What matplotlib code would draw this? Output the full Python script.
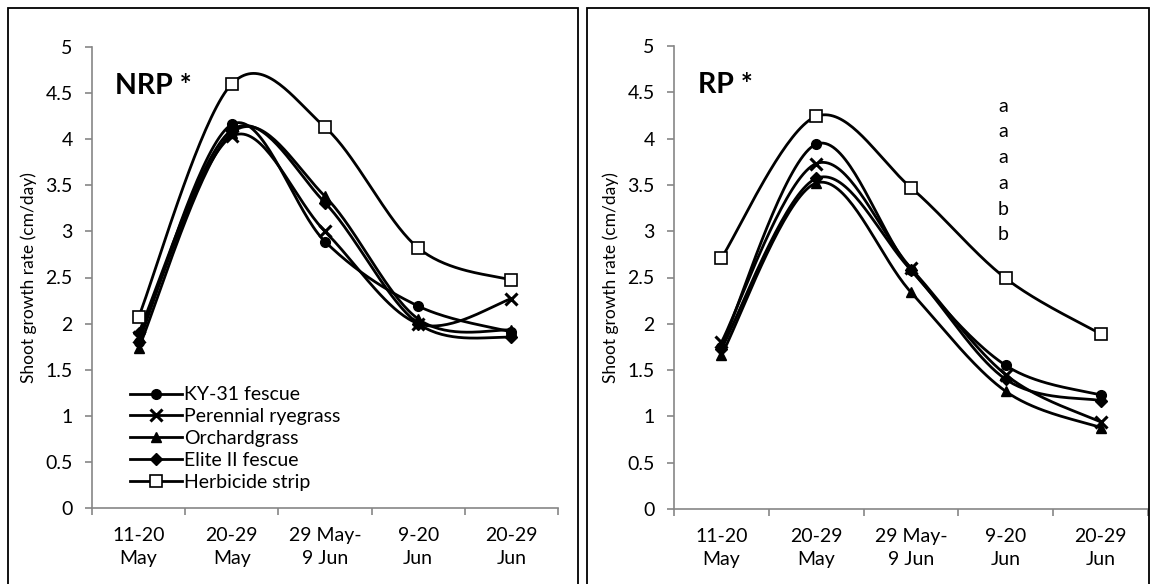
import matplotlib.pyplot as plt
import numpy as np
from matplotlib.patches import Rectangle

periods = ['11-20\nMay', '20-29\nMay', '29 May-\n9 Jun', '9-20\nJun', '20-29\nJun']
species = ['KY-31 fescue', 'Perennial ryegrass', 'Orchardgrass', 'Elite II fescue', 'Herbicide strip']

# Shoot growth rate (cm/day), non-removed plots
nrp_ky31 = [1.80, 4.16, 2.89, 2.19, 1.91]
nrp_rye = [1.85, 4.03, 3.00, 2.00, 2.27]
nrp_orchard = [1.73, 4.07, 3.38, 2.05, 1.93]
nrp_elite = [1.90, 4.10, 3.31, 2.00, 1.85]
nrp_herb = [2.07, 4.60, 4.13, 2.82, 2.47]

# Shoot growth rate (cm/day), removed plots
rp_ky31 = [1.75, 3.94, 2.58, 1.55, 1.23]
rp_rye = [1.80, 3.73, 2.60, 1.45, 0.94]
rp_orchard = [1.66, 3.52, 2.34, 1.27, 0.88]
rp_elite = [1.73, 3.57, 2.58, 1.40, 1.17]
rp_herb = [2.71, 4.24, 3.47, 2.49, 1.89]

rp_letters = ['a', 'a', 'a', 'a', 'b', 'b']

styles = [
    dict(marker='o', ms=7, mfc='black', mec='black', mew=1),
    dict(marker='x', ms=8, mfc='black', mec='black', mew=2.2),
    dict(marker='^', ms=7.5, mfc='black', mec='black', mew=1),
    dict(marker='D', ms=6, mfc='black', mec='black', mew=1),
    dict(marker='s', ms=9, mfc='white', mec='black', mew=1.2),
]

FONT = ['Lato', 'DejaVu Sans']
plt.rcParams['font.family'] = FONT


def smooth(x, y, n=40):
    # Bezier smoothing through every point (spreadsheet-style smoothed line)
    x = np.asarray(x, float)
    y = np.asarray(y, float)
    px = np.concatenate([[x[0]], x, [x[-1]]])
    py = np.concatenate([[y[0]], y, [y[-1]]])
    xs, ys = [], []
    t = np.linspace(0, 1, n)
    for i in range(1, len(px) - 2):
        p0 = np.array([px[i], py[i]])
        p3 = np.array([px[i + 1], py[i + 1]])
        c1 = p0 + (np.array([px[i + 1], py[i + 1]]) - np.array([px[i - 1], py[i - 1]])) / 6
        c2 = p3 - (np.array([px[i + 2], py[i + 2]]) - np.array([px[i], py[i]])) / 6
        b = ((1 - t) ** 3)[:, None] * p0 + (3 * (1 - t) ** 2 * t)[:, None] * c1 \
            + (3 * (1 - t) * t ** 2)[:, None] * c2 + (t ** 3)[:, None] * p3
        xs.append(b[:, 0])
        ys.append(b[:, 1])
    return np.concatenate(xs), np.concatenate(ys)


fig = plt.figure(figsize=(11.5, 5.84), dpi=100)
W, H = 1150, 584

# panel frames
fig.patches.append(Rectangle((8 / W, -0.02), 570 / W, 1 - 8 / H + 0.02, transform=fig.transFigure,
                             fill=False, ec='black', lw=1.3))
fig.patches.append(Rectangle((587 / W, -0.02), 562 / W, 1 - 8 / H + 0.02, transform=fig.transFigure,
                             fill=False, ec='black', lw=1.3))

ax1 = fig.add_axes([92 / W, (H - 508) / H, 466 / W, 461 / H])
ax2 = fig.add_axes([674 / W, (H - 509) / H, 474 / W, 463 / H])

panels = [
    (ax1, [nrp_ky31, nrp_rye, nrp_orchard, nrp_elite, nrp_herb], 'NRP *'),
    (ax2, [rp_ky31, rp_rye, rp_orchard, rp_elite, rp_herb], 'RP *'),
]

x = np.arange(len(periods))
for ax, series, title in panels:
    for vals, name, st in zip(series, species, styles):
        sx, sy = smooth(x, vals)
        ax.plot(sx, sy, color='black', lw=2.0, zorder=2)
        ax.plot(x, vals, ls='none', zorder=3, **st)
        ax.plot([], [], color='black', lw=2.0, label=name, **st)
    ax.set_xlim(-0.5, 4.5)
    ax.set_ylim(0, 5)
    ax.set_yticks(np.arange(0, 5.01, 0.5))
    ax.set_yticklabels(['0', '0.5', '1', '1.5', '2', '2.5', '3', '3.5', '4', '4.5', '5'])
    ax.set_xticks(x)
    ax.set_xticklabels(periods, linespacing=1.4)
    ax.set_xticks(np.arange(-0.5, 4.6, 1), minor=True)
    ax.tick_params(axis='x', which='major', length=0, pad=14, labelsize=14)
    ax.tick_params(axis='x', which='minor', length=5, color='#868686', width=1.2)
    ax.tick_params(axis='y', length=5, color='#868686', width=1.2, pad=9, labelsize=14)
    for s in ['top', 'right']:
        ax.spines[s].set_visible(False)
    for s in ['left', 'bottom']:
        ax.spines[s].set_color('#868686')
        ax.spines[s].set_linewidth(1.2)
    ax.set_ylabel('Shoot growth rate (cm/day)', fontsize=12.5, labelpad=6)
    ax.text(0.05, 0.915, title, transform=ax.transAxes, fontsize=20.5, fontweight='bold',
            va='center', ha='left')

ax1.legend(loc='upper left', bbox_to_anchor=(0.06, 0.285), frameon=False, fontsize=14,
           handlelength=2.7, handletextpad=0.1, labelspacing=0.25, borderpad=0)

for i, letter in enumerate(rp_letters):
    ax2.text(2.97, 4.35 - i * 0.278, letter, fontsize=14, ha='center', va='center')

fig.savefig('out.png', dpi=100)
